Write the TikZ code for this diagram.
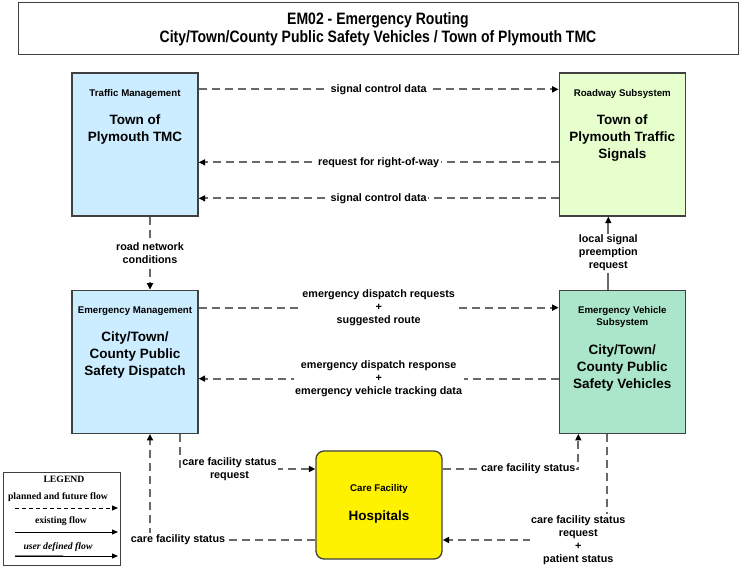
\documentclass[tikz,border=0pt]{standalone}
\usepackage{fontspec}
\setmainfont{Liberation Sans}
\newfontfamily\narrowfont[FakeStretch=0.85]{Liberation Sans}
\newfontfamily\legendfont{Liberation Serif}
\usetikzlibrary{arrows.meta,positioning}

\definecolor{tmcblue}{RGB}{204,236,255}
\definecolor{roadgreen}{RGB}{230,255,204}
\definecolor{vehgreen}{RGB}{172,230,202}
\definecolor{boxgray}{RGB}{64,64,64}
\definecolor{flowgray}{RGB}{105,105,105}

\begin{document}
\begin{tikzpicture}[
    x=1pt, y=1pt,
    node distance=73pt,
    subsys/.style={rectangle,draw=boxgray,line width=1.3pt,minimum width=126pt,minimum height=143pt,inner sep=0pt},
    cat/.style={align=center,inner sep=0pt,font=\fontsize{9.7}{12}\selectfont\bfseries},
    sysname/.style={align=center,inner sep=0pt,font=\fontsize{13.5}{17}\selectfont\bfseries},
    flow/.style={draw=flowgray,line width=1.8pt,dash pattern=on 8pt off 5pt,-{Triangle[length=6.5pt,width=6pt,color=black]}},
    existflow/.style={draw=flowgray,line width=1.8pt,-{Triangle[length=6.5pt,width=6pt,color=black]}},
    flowlbl/.style={fill=white,align=center,inner sep=1.5pt,font=\fontsize{10.8}{13}\selectfont\bfseries},
    legtxt/.style={inner sep=0pt,font=\legendfont\fontsize{9.7}{11}\selectfont\bfseries},
    legline/.style={black,line width=0.9pt,-{Triangle[length=6pt,width=5pt]}}
]
\path[fill=white,use as bounding box] (0,0) rectangle (739,570);

% Title
\node[draw=boxgray,line width=1pt,minimum width=720pt,minimum height=52pt,inner sep=0pt,align=center,
      font=\narrowfont\fontsize{16.5}{18}\selectfont\bfseries] (title) at (378,541)
      {EM02 - Emergency Routing\\City/Town/County Public Safety Vehicles / Town of Plymouth TMC};

% Subsystems
\node[subsys,fill=tmcblue] (tmc) at (135,425.5) {};
\node[subsys,fill=roadgreen,right=360pt of tmc] (road) {};
\node[subsys,fill=tmcblue,below=of tmc] (disp) {};
\node[subsys,fill=vehgreen,below=of road] (veh) {};
\node[draw=boxgray,line width=1.3pt,rounded corners=8pt,fill=yellow,minimum width=126pt,minimum height=108pt] (hosp) at (379,65) {};

% Subsystem texts
\node[cat,below=17pt of tmc.north] (tmccat) {Traffic Management};
\node[sysname,below=16pt of tmccat] (tmcname) {Town of\\Plymouth TMC};
\node[cat,below=17pt of road.north] (roadcat) {Roadway Subsystem};
\node[sysname,below=16pt of roadcat] (roadname) {Town of\\Plymouth Traffic\\Signals};
\node[cat,below=17pt of disp.north] (dispcat) {Emergency Management};
\node[sysname,below=16pt of dispcat] (dispname) {City/Town/\\County Public\\Safety Dispatch};
\node[cat,below=17pt of veh.north] (vehcat) {Emergency Vehicle\\Subsystem};
\node[sysname,below=16pt of vehcat] (vehname) {City/Town/\\County Public\\Safety Vehicles};
\node[cat] (hospcat) at ([yshift=16pt]hosp.center) {Care Facility};
\node[sysname] (hospname) at ([yshift=-12pt]hosp.center) {Hospitals};

% TMC <-> Roadway
\draw[flow] ([yshift=-17pt]tmc.north east) -- ([yshift=-17pt]road.north west) node[flowlbl,midway] (lblscd1) {signal control data};
\draw[flow] ([yshift=-90pt]road.north west) -- ([yshift=-90pt]tmc.north east) node[flowlbl,midway] (lblrow) {request for right-of-way};
\draw[flow] ([yshift=-126pt]road.north west) -- ([yshift=-126pt]tmc.north east) node[flowlbl,midway] (lblscd2) {signal control data};

% TMC -> Dispatch, Vehicles -> Roadway
\draw[flow] ([xshift=15pt]tmc.south) -- ([xshift=15pt]disp.north) node[flowlbl,midway] (lblrnc) {road network\\conditions};
\draw[existflow] ([xshift=-14pt]veh.north) -- ([xshift=-14pt]road.south) node[flowlbl,midway] (lblpre) {local signal\\preemption\\request};

% Dispatch <-> Vehicles
\draw[flow] ([yshift=-18pt]disp.north east) -- ([yshift=-18pt]veh.north west) node[flowlbl,midway] (lbledr) {emergency dispatch requests\\+\\suggested route};
\draw[flow] ([yshift=-89pt]veh.north west) -- ([yshift=-89pt]disp.north east) node[flowlbl,midway] (lbleds) {emergency dispatch response\\+\\emergency vehicle tracking data};

% Care facility flows
\draw[flow] ([xshift=45pt]disp.south) |- ([yshift=36pt]hosp.west) node[flowlbl,pos=0.5,anchor=west] (lblcfr) {care facility status\\request};
\draw[flow] ([yshift=36pt]hosp.east) -| ([xshift=-44pt]veh.south) node[flowlbl,pos=0.5,anchor=east,inner sep=1pt,xshift=-1pt] (lblcfs1) {care facility status};
\draw[flow] ([yshift=-35pt]hosp.west) -| ([xshift=15pt]disp.south) node[flowlbl,pos=0.5,xshift=28pt] (lblcfs2) {care facility status};
\draw[flow] ([xshift=-15pt]veh.south) |- ([yshift=-35pt]hosp.east) node[flowlbl,pos=0.5,xshift=-29pt] (lblcfr2) {care facility status\\request\\+\\patient status};

% Legend
\node[draw=boxgray,line width=1pt,minimum width=117pt,minimum height=93pt,inner sep=0pt] (legend) at (61.5,50.5) {};
\node[legtxt] (leghead) at (64,91) {LEGEND};
\node[legtxt] (legplan) at (58,73) {planned and future flow};
\node[legtxt] (legexist) at (61,49) {existing flow};
\node[legtxt] (leguser) at (58,23) {\itshape user defined flow};
\coordinate (plana) at (15,62);
\coordinate (planb) at (118,62);
\coordinate (exista) at (15,38);
\coordinate (existb) at (118,38);
\coordinate (usera) at (15,14);
\coordinate (userb) at (118,14);
\coordinate (userm) at (63,14);
\draw[legline,dash pattern=on 4pt off 3pt] (plana) -- (planb);
\draw[legline] (exista) -- (existb);
\draw[legline] (usera) -- (userb);
\draw[gray,line width=0.9pt] ([yshift=1pt]usera) -- ([yshift=1pt]userm);

\end{tikzpicture}
\end{document}
